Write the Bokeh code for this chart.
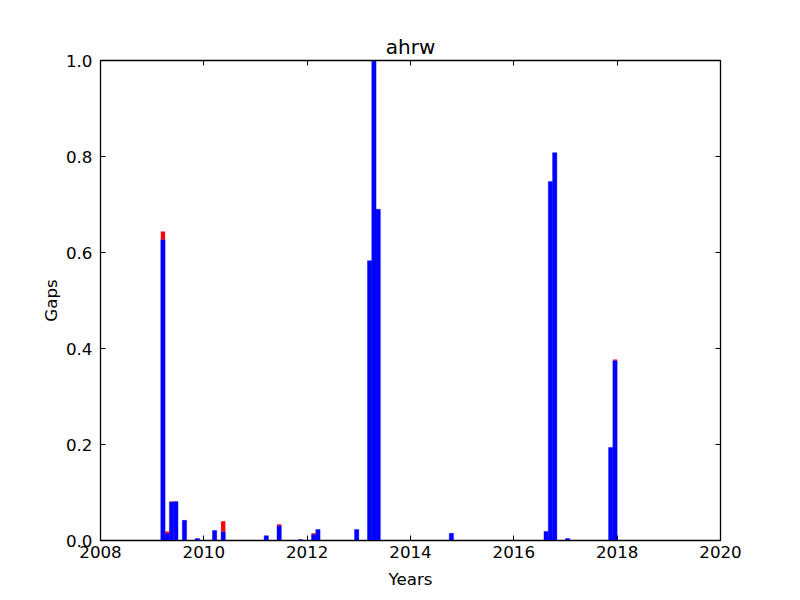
from bokeh.plotting import figure
from bokeh.models import Range1d, LinearAxis, FixedTicker, PrintfTickFormatter
from bokeh.embed import file_html
from bokeh.resources import INLINE

# Monthly gap values (blue = main part, red = stacked on top)
months = ["2009-03", "2009-04", "2009-05", "2009-06", "2009-08", "2009-11",
          "2010-03", "2010-05", "2011-03", "2011-06", "2011-11", "2012-02",
          "2012-03", "2012-12", "2013-03", "2013-04", "2013-05", "2014-10",
          "2016-08", "2016-09", "2016-10", "2017-01", "2017-11", "2017-12"]
blue_gaps = [0.627, 0.015, 0.080, 0.081, 0.042, 0.004,
             0.021, 0.019, 0.010, 0.031, 0.002, 0.013,
             0.023, 0.023, 0.583, 1.000, 0.690, 0.015,
             0.019, 0.748, 0.808, 0.004, 0.194, 0.375]
red_gaps = [0.017, 0.004, 0.001, 0.0, 0.0, 0.0,
            0.0, 0.021, 0.0, 0.003, 0.0, 0.002,
            0.0, 0.0, 0.0, 0.0, 0.0, 0.0,
            0.0, 0.0, 0.0, 0.0, 0.0, 0.002]
x_ticks = [2008, 2010, 2012, 2014, 2016, 2018, 2020]
y_ticks = [0.0, 0.2, 0.4, 0.6, 0.8, 1.0]

left = [int(m[:4]) + (int(m[5:]) - 1) / 12 for m in months]
right = [l + 1 / 12 for l in left]
red_top = [b + r for b, r in zip(blue_gaps, red_gaps)]

FONT = "DejaVu Sans"
FS = "16.7px"

p = figure(frame_width=620, frame_height=480,
           x_range=Range1d(2008, 2020), y_range=Range1d(0, 1),
           output_backend="svg", toolbar_location=None, title="ahrw",
           min_border_left=100, min_border_right=80,
           min_border_top=60, min_border_bottom=60,
           x_axis_label="Years", y_axis_label="Gaps")

p.quad(left=left, right=right, bottom=0, top=blue_gaps,
       fill_color="#0000ff", line_color="#0000ff", line_width=0.4)
p.quad(left=left, right=right, bottom=blue_gaps, top=red_top,
       fill_color="#ff0000", line_color=None)

p.xgrid.visible = False
p.ygrid.visible = False
p.outline_line_color = "black"
p.outline_line_width = 1.3

p.title.align = "center"
p.title.text_font = FONT
p.title.text_font_size = "20px"
p.title.text_font_style = "normal"
p.title.text_color = "black"
p.title.standoff = 4

for ax in p.xaxis:
    ax.ticker = FixedTicker(ticks=x_ticks)
    ax.formatter = PrintfTickFormatter(format="%d")
    ax.major_label_standoff = 5
    ax.axis_label_standoff = 8
for ax in p.yaxis:
    ax.ticker = FixedTicker(ticks=y_ticks)
    ax.formatter = PrintfTickFormatter(format="%.1f")
    ax.major_label_standoff = 8
    ax.axis_label_standoff = 2

for ax in p.xaxis + p.yaxis:
    ax.major_label_text_font = FONT
    ax.major_label_text_font_size = FS
    ax.major_label_text_color = "black"
    ax.axis_label_text_font = FONT
    ax.axis_label_text_font_size = FS
    ax.axis_label_text_font_style = "normal"
    ax.axis_label_text_color = "black"
    ax.major_tick_in = 5
    ax.major_tick_out = 0
    ax.minor_tick_in = 0
    ax.minor_tick_out = 0
    ax.axis_line_color = "black"
    ax.major_tick_line_color = "black"

top_ax = LinearAxis(ticker=FixedTicker(ticks=x_ticks),
                    major_label_overrides={t: "" for t in x_ticks})
right_ax = LinearAxis(ticker=FixedTicker(ticks=y_ticks),
                      major_label_overrides={t: "" for t in y_ticks})
for ax in (top_ax, right_ax):
    ax.major_label_standoff = 0
    ax.major_tick_in = 5
    ax.major_tick_out = 0
    ax.minor_tick_in = 0
    ax.minor_tick_out = 0
    ax.axis_line_color = "black"
    ax.major_tick_line_color = "black"
p.add_layout(top_ax, "above")
p.add_layout(right_ax, "right")

open("out.html", "w").write(file_html(p, INLINE))
